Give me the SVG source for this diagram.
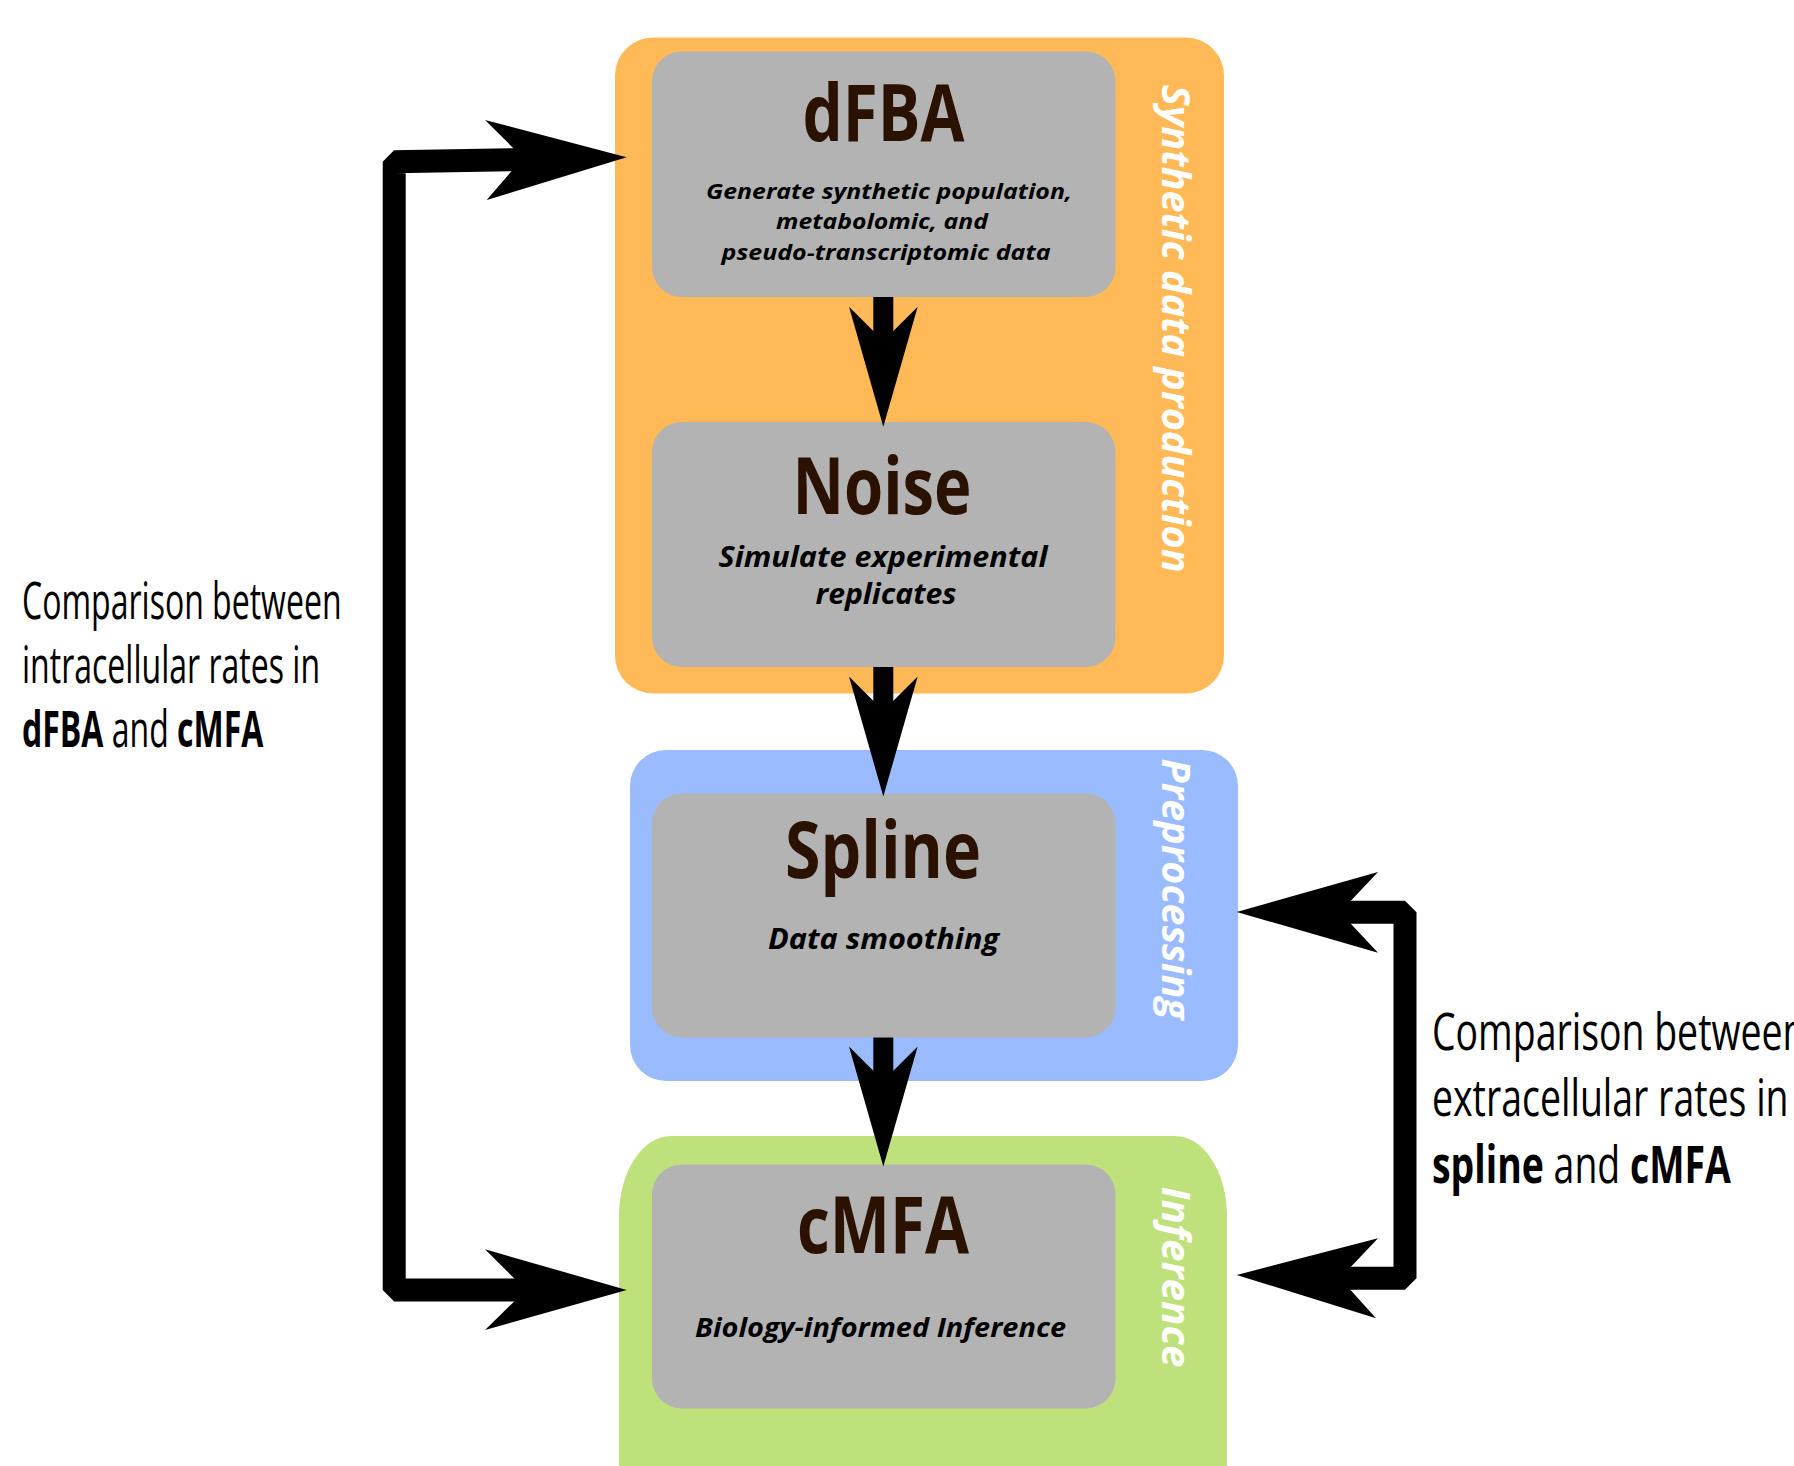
<svg xmlns="http://www.w3.org/2000/svg" width="1794" height="1466" viewBox="0 0 1794 1466">
<style>
.card{fill:#b3b3b3}
.title{font-family:'Open Sans','Noto Sans','Liberation Sans',sans-serif;font-weight:700;font-size:78px;fill:#2b1100;text-anchor:middle}
.desc{font-family:'Open Sans','Noto Sans','Liberation Sans',sans-serif;font-weight:700;font-style:italic;fill:#000;text-anchor:middle}
.vlabel{font-family:'Open Sans','Noto Sans','Liberation Sans',sans-serif;font-weight:700;font-style:italic;font-size:40px;fill:#ffffff}
.side{font-family:'Open Sans','Noto Sans','Liberation Sans',sans-serif;font-weight:400;fill:#000}
.side .b{font-weight:700}
.conn{fill:none;stroke:#000;stroke-width:23;stroke-linejoin:bevel}
.shaft{fill:#000}
.head{fill:#000}
</style>

<g id="panel-synthetic">
  <rect x="615" y="37.5" width="609" height="656" rx="38" ry="38" fill="#ffb957"/>
  <text class="vlabel" transform="translate(1162,84.7) rotate(90)" textLength="488" lengthAdjust="spacingAndGlyphs">Synthetic data production</text>
</g>
<g id="panel-preprocessing">
  <rect x="630" y="750" width="608" height="331" rx="36" ry="36" fill="#9abcfe"/>
  <text class="vlabel" transform="translate(1162,758.6) rotate(90)" textLength="261" lengthAdjust="spacingAndGlyphs">Preprocessing</text>
</g>
<g id="panel-inference">
  <rect x="619" y="1136" width="608" height="420" rx="52" ry="80" fill="#bfe17b"/>
  <text class="vlabel" transform="translate(1162,1186.5) rotate(90)" textLength="181" lengthAdjust="spacingAndGlyphs">Inference</text>
</g>

<g id="node-dfba">
  <rect class="card" x="652" y="51.5" width="463.5" height="245.5" rx="30" ry="30"/>
  <text class="title" x="883.5" y="140.7" textLength="162" lengthAdjust="spacingAndGlyphs">dFBA</text>
  <text class="desc" font-size="22" x="889" y="198.5" textLength="366" lengthAdjust="spacingAndGlyphs">Generate synthetic population,</text>
  <text class="desc" font-size="22" x="882" y="229" textLength="212" lengthAdjust="spacingAndGlyphs">metabolomic, and</text>
  <text class="desc" font-size="22" x="886" y="259.5" textLength="329" lengthAdjust="spacingAndGlyphs">pseudo-transcriptomic data</text>
</g>
<g id="node-noise">
  <rect class="card" x="652" y="422" width="463.5" height="245" rx="30" ry="30"/>
  <text class="title" x="882" y="514" textLength="179" lengthAdjust="spacingAndGlyphs">Noise</text>
  <text class="desc" font-size="28" x="883" y="566.5" textLength="329" lengthAdjust="spacingAndGlyphs">Simulate experimental</text>
  <text class="desc" font-size="28" x="886" y="603.5" textLength="141" lengthAdjust="spacingAndGlyphs">replicates</text>
</g>
<g id="node-spline">
  <rect class="card" x="652" y="793.5" width="463.5" height="244" rx="30" ry="30"/>
  <text class="title" x="883" y="878" textLength="196" lengthAdjust="spacingAndGlyphs">Spline</text>
  <text class="desc" font-size="28" x="883.5" y="948.5" textLength="231" lengthAdjust="spacingAndGlyphs">Data smoothing</text>
</g>
<g id="node-cmfa">
  <rect class="card" x="652" y="1164.5" width="463.5" height="244" rx="30" ry="30"/>
  <text class="title" x="883" y="1252.5" textLength="172" lengthAdjust="spacingAndGlyphs">cMFA</text>
  <text class="desc" font-size="27" x="880.5" y="1337" textLength="371" lengthAdjust="spacingAndGlyphs">Biology-informed Inference</text>
</g>

<g id="connectors">
  <!-- dFBA -> Noise -->
  <rect class="shaft" x="873.3" y="297" width="20" height="50"/>
  <polygon class="head" points="883.3,426.7 849,306.7 883.3,341 917.7,306.7"/>
  <!-- Noise -> Spline -->
  <rect class="shaft" x="873.3" y="667" width="20" height="50"/>
  <polygon class="head" points="883.3,796.5 849,676.5 883.3,710.8 917.7,676.5"/>
  <!-- Spline -> cMFA -->
  <rect class="shaft" x="873.3" y="1037.5" width="20" height="50"/>
  <polygon class="head" points="883.3,1166.5 849,1046.5 883.3,1080.8 917.7,1046.5"/>
  <!-- left comparison: dFBA <-> cMFA -->
  <polyline class="conn" points="528,159.5 394.2,161.7 394.2,1290 528,1290"/>
  <polygon class="head" points="626.7,157.3 485,120 523,157.8 486.7,200"/>
  <polygon class="head" points="626.7,1290 485,1249.3 526,1290 485,1330"/>
  <!-- right comparison: Preprocessing <-> Inference -->
  <polyline class="conn" points="1335,912.3 1405,912.3 1405,1278.3 1335,1278.3"/>
  <polygon class="head" points="1236.7,912 1378,872 1340,912.3 1378,952.7"/>
  <polygon class="head" points="1236.7,1275 1378,1238.3 1340,1278.3 1376,1318.3"/>
</g>

<g id="label-intracellular" class="side" font-size="51" transform="translate(22,0) scale(0.628,1)">
  <text x="0" y="619">Comparison between</text>
  <text x="0" y="683">intracellular rates in</text>
  <text x="0" y="747"><tspan class="b">dFBA</tspan> and <tspan class="b">cMFA</tspan></text>
</g>
<g id="label-extracellular" class="side" font-size="52" transform="translate(1432,0) scale(0.72,1)">
  <text x="0" y="1050">Comparison between</text>
  <text x="0" y="1116">extracellular rates in</text>
  <text x="0" y="1183"><tspan class="b">spline</tspan> and <tspan class="b">cMFA</tspan></text>
</g>
</svg>
